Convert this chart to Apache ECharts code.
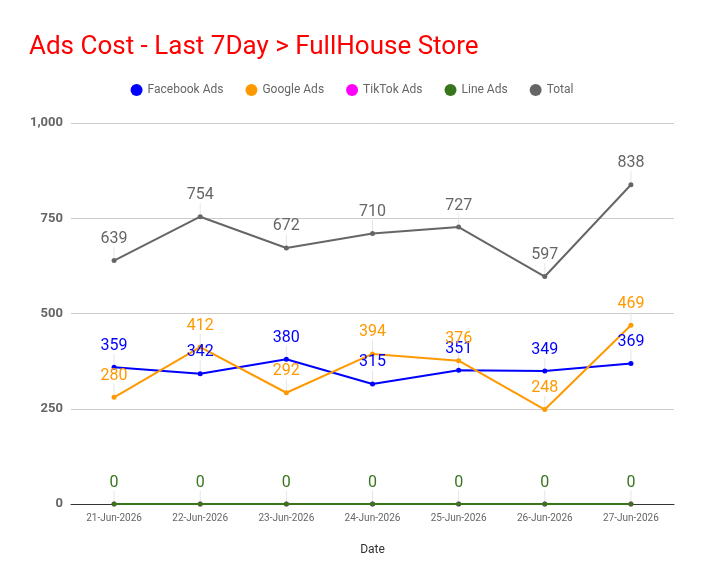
<!DOCTYPE html>
<html><head><meta charset="utf-8">
<script src="https://cdn.jsdelivr.net/npm/echarts@6/dist/echarts.min.js"></script>
<style>html,body{margin:0;padding:0;background:#fff}#c{width:704px;height:585px}</style>
</head><body><div id="c"></div>
<script>
const categories = ['21-Jun-2026','22-Jun-2026','23-Jun-2026','24-Jun-2026','25-Jun-2026','26-Jun-2026','27-Jun-2026'];
const facebookAds = [359,342,380,315,351,349,369];
const googleAds = [280,412,292,394,376,248,469];
const tiktokAds = [0,0,0,0,0,0,0];
const lineAds = [0,0,0,0,0,0,0];
const totalAds = [639,754,672,710,727,597,838];
const yTicks = [0,250,500,750,1000];

const chart = echarts.init(document.getElementById('c'), null, {renderer:'canvas'});
function mk(name, data, color, showLabel, extraDy){
  return {
    name, type:'line', data, color,
    symbol:'circle', symbolSize:5, showSymbol:true,
    lineStyle:{width:2, color},
    itemStyle:{color},
    label:{show:showLabel, position:'top', distance:2, color, fontSize:16, fontFamily:'Roboto'},
    labelLayout: function(p){ return {dy: -(extraDy && extraDy[p.dataIndex] ? extraDy[p.dataIndex] : 9)}; },
    labelLine:{show:true, lineStyle:{color:'#e6e6e6', width:1}},
    emphasis:{disabled:true},
    animation:false
  };
}
chart.setOption({
  animation:false,
  textStyle:{fontFamily:'Roboto'},
  title:{text:'Ads Cost - Last 7Day > FullHouse Store', left:24, top:29,
    textStyle:{color:'#ff0000', fontSize:26, fontWeight:'normal', fontFamily:'Roboto'}},
  legend:{top:79, left:'center', icon:'circle', itemWidth:12, itemHeight:12, itemGap:22,
    textStyle:{color:'#666', fontSize:12, fontFamily:'Roboto'}},
  grid:{left:71, right:30, top:123, bottom:81},
  xAxis:{type:'category', data:categories, boundaryGap:true,
    name:'Date', nameLocation:'middle', nameGap:40, nameTextStyle:{color:'#333', fontSize:12},
    axisLine:{lineStyle:{color:'#333', width:1}}, axisTick:{show:false},
    axisLabel:{color:'#666', fontSize:10, margin:9}},
  yAxis:{type:'value', min:yTicks[0], max:yTicks[yTicks.length-1], interval:250,
    axisLine:{show:false}, axisTick:{show:false},
    splitLine:{lineStyle:{color:'#cccccc'}},
    axisLabel:{color:'#666', fontSize:13, fontWeight:'bold', margin:8,
      formatter:v=>v.toLocaleString('en-US')}},
  series:[
    mk('Facebook Ads', facebookAds, '#0000ff', true),
    mk('Google Ads', googleAds, '#ff9900', true, {1:9}),
    mk('TikTok Ads', tiktokAds, '#ff00ff', false),
    mk('Line Ads', lineAds, '#38761d', true),
    mk('Total', totalAds, '#666666', true)
  ]
});
</script></body></html>
